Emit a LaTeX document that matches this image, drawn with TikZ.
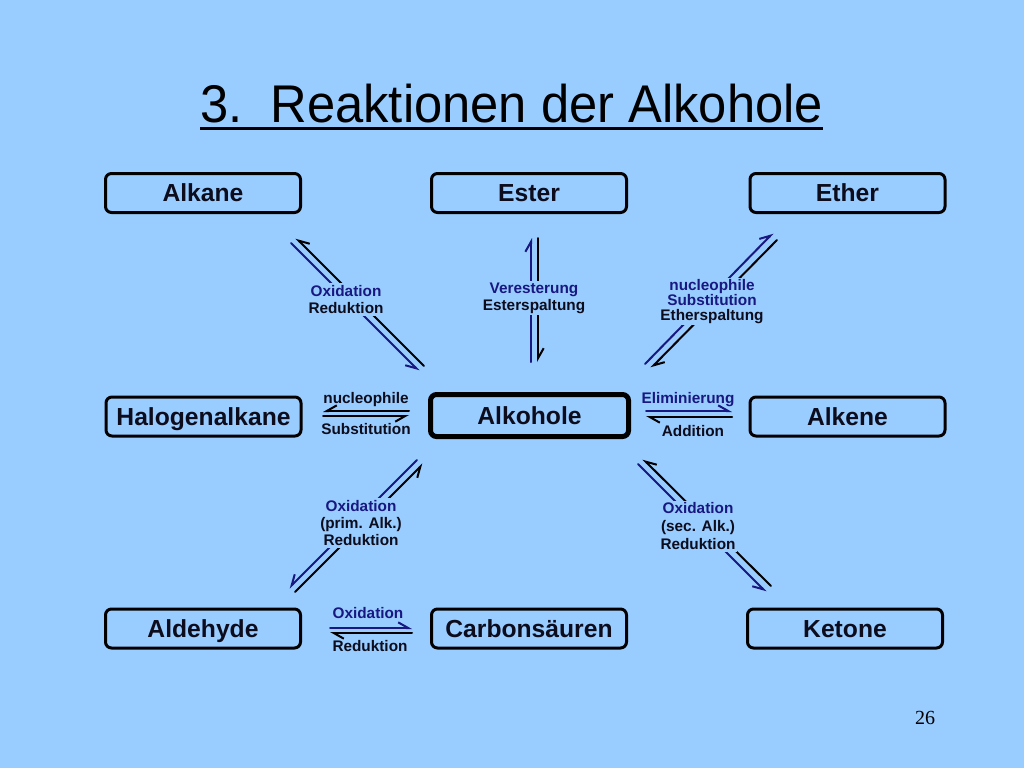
\documentclass[tikz,border=0pt]{standalone}
\usepackage{fontspec}
\usepackage{graphicx}
\setmainfont{Liberation Sans}
\newfontfamily\timesfont{Liberation Serif}
\usetikzlibrary{arrows.meta}
\definecolor{bg}{RGB}{153,204,255}
\definecolor{navy}{RGB}{24,24,128}
\definecolor{ink}{RGB}{12,12,28}
\begin{document}
\begin{tikzpicture}[x=0.75pt,y=-0.75pt,
  box/.style={draw=black, line width=2.25pt, rounded corners=4.5pt,
    minimum width=146.25pt, minimum height=29.25pt, inner sep=0pt,
    text height=13.3pt, text depth=0pt,
    font=\fontsize{18.5}{20}\selectfont\bfseries, text=ink},
  mainbox/.style={box, line width=3.75pt, minimum width=148.5pt, minimum height=31.5pt},
  lbl/.style={fill=bg, inner sep=1.5pt, align=center, text=ink,
    font=\fontsize{11.5}{12.75}\selectfont\bfseries},
  lblh/.style={inner sep=0pt, align=center, text=ink,
    font=\fontsize{11.5}{12.75}\selectfont\bfseries},
  ln/.style={line width=1.5pt, line cap=round},
  hl/.style={ln,-{Straight Barb[left,length=7.5pt,width=8.5pt]}},
  hr/.style={ln,-{Straight Barb[right,length=7.5pt,width=8.5pt]}},
  blu/.style={draw=navy},
  blk/.style={draw=black},
]
\fill[bg] (0,0) rectangle (1024,768);
\useasboundingbox (0,0) rectangle (1024,768);

% title
\node[anchor=base west, inner sep=0pt, font=\fontsize{39.8}{44}\selectfont, text=black]
  (title) at (200,122) {\resizebox{467pt}{\height}{3.\ \ Reaktionen der Alkohole}};
\draw[line width=2.25pt] ([yshift=-4.5pt]title.base west) -- ([yshift=-4.5pt]title.base east);

% boxes
\node[box] (alkane) at (203,193) {Alkane};
\node[box] (ester) at (529,193) {Ester};
\node[box] (ether) at (847.5,193) {Ether};
\node[box] (halo) at (203.5,416.5) {Halogenalkane};
\node[mainbox] (alkohole) at (529.5,415.5) {Alkohole};
\node[box] (alkene) at (847.5,416.5) {Alkene};
\node[box] (aldehyde) at (203,628.5) {Aldehyde};
\node[box] (carbon) at (529,628.5) {Carbonsäuren};
\node[box] (ketone) at (845,628.5) {Ketone};

% arrow end points
\coordinate (p1a) at (291,243); \coordinate (p1b) at (419,371);
\coordinate (p1c) at (424,366); \coordinate (p1d) at (296,238);
\coordinate (p2a) at (531,362); \coordinate (p2b) at (531,238);
\coordinate (p2c) at (538,238); \coordinate (p2d) at (538,362);
\coordinate (p3a) at (645,364); \coordinate (p3b) at (773,233);
\coordinate (p3c) at (777,240); \coordinate (p3d) at (651,368);
\coordinate (p4a) at (409,411); \coordinate (p4b) at (323,411);
\coordinate (p4c) at (323,416); \coordinate (p4d) at (409,416);
\coordinate (p5a) at (646,411); \coordinate (p5b) at (732,411);
\coordinate (p5c) at (732,417); \coordinate (p5d) at (646,417);
\coordinate (p6a) at (417,460); \coordinate (p6b) at (289,588);
\coordinate (p6c) at (295,592); \coordinate (p6d) at (423,464);
\coordinate (p7a) at (771,586); \coordinate (p7b) at (643,459);
\coordinate (p7c) at (638,464); \coordinate (p7d) at (766,592);
\coordinate (p8a) at (330,628); \coordinate (p8b) at (412,628);
\coordinate (p8c) at (412,633); \coordinate (p8d) at (330,633);

\draw[hr,blu] (p1a) -- (p1b);
\draw[hr,blk] (p1c) -- (p1d);
\draw[hl,blu] (p2a) -- (p2b);
\draw[hl,blk] (p2c) -- (p2d);
\draw[hl,blu] (p3a) -- (p3b);
\draw[hl,blk] (p3c) -- (p3d);
\draw[hr,blk] (p4a) -- (p4b);
\draw[hr,blk] (p4c) -- (p4d);
\draw[hl,blu] (p5a) -- (p5b);
\draw[hl,blk] (p5c) -- (p5d);
\draw[hr,blu] (p6a) -- (p6b);
\draw[hr,blk] (p6c) -- (p6d);
\draw[hr,blk] (p7a) -- (p7b);
\draw[hr,blu] (p7c) -- (p7d);
\draw[hl,blu] (p8a) -- (p8b);
\draw[hl,blk] (p8c) -- (p8d);

% labels
\node[lbl] (l1) at (346,299.5) {{\color{navy}Oxidation}\\Reduktion};
\node[lbl] (l2) at (534,298) {{\color{navy}Veresterung}\\Esterspaltung};
\node[lbl, font=\fontsize{11.5}{11}\selectfont\bfseries] (l3) at (712,301.5)
  {{\color{navy}nucleophile}\\{\color{navy}Substitution}\\Etherspaltung};
\node[lblh] (l4a) at (366,400) {nucleophile};
\node[lblh] (l4b) at (366,429) {Substitution};
\node[lblh, text=navy] (l5a) at (688,400) {Eliminierung};
\node[lblh] (l5b) at (693,431) {Addition};
\node[lbl, font=\fontsize{11.5}{13}\selectfont\bfseries] (l6) at (361,523)
  {{\color{navy}Oxidation}\\(prim. Alk.)\\Reduktion};
\node[lbl, font=\fontsize{11.5}{13.5}\selectfont\bfseries] (l7) at (698,526.5)
  {{\color{navy}Oxidation}\\(sec. Alk.)\\Reduktion};
\node[lblh, text=navy] (l8a) at (368,613) {Oxidation};
\node[lblh] (l8b) at (370,646) {Reduktion};

% page number
\node[font=\timesfont\fontsize{15}{18}\selectfont, text=black] (pg) at (925,718) {26};
\end{tikzpicture}
\end{document}
